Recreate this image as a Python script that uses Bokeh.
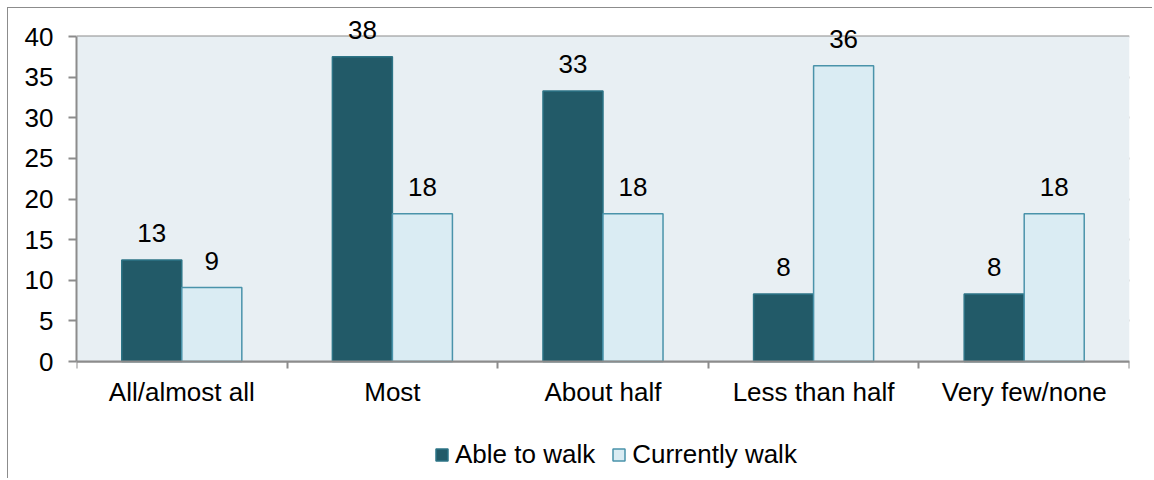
from bokeh.plotting import figure
from bokeh.models import ColumnDataSource, FixedTicker, Legend, LegendItem, Range1d
from bokeh.core.properties import value
from bokeh.embed import file_html
from bokeh.resources import INLINE

# Share of days walked, by group
categories = ["All/almost all", "Most", "About half", "Less than half", "Very few/none"]
able_to_walk = [12.5, 37.5, 33.3, 8.3, 8.3]
currently_walk = [9.1, 18.2, 18.2, 36.4, 18.2]
y_ticks = [0, 5, 10, 15, 20, 25, 30, 35, 40]

FONT = "Liberation Sans"
FS = "26px"
GRID = "#8c8c8c"
DARK_FILL, DARK_EDGE = "#225a68", "#2d7486"
LIGHT_FILL, LIGHT_EDGE = "#daecf3", "#4a93aa"
PLOT_BG = "#e8eff3"
BAR_W = 0.285

# layout in pixels: the frame fills the whole figure height so that value
# labels above the band, category labels and the legend all sit inside it
FIG_W, FIG_H = 1145, 471
LEFT, RIGHT = 68, 24
BAND_TOP = 28                      # figure px from top to the 40 line
CHART_H = 325                      # height of the 0..40 band
Y_MAX = y_ticks[-1]
PX = CHART_H / Y_MAX
Y_TOP = Y_MAX + BAND_TOP / PX
Y_MIN = -(FIG_H - BAND_TOP - CHART_H) / PX


def fmt(v):
    return str(int(v + 0.5))


centers = [i + 0.5 for i in range(len(categories))]
src_a = ColumnDataSource(dict(x=[c - BAR_W / 2 for c in centers], top=able_to_walk,
                              lbl=[fmt(v) for v in able_to_walk]))
src_c = ColumnDataSource(dict(x=[c + BAR_W / 2 for c in centers], top=currently_walk,
                              lbl=[fmt(v) for v in currently_walk]))

p = figure(width=FIG_W, height=FIG_H, output_backend="svg", toolbar_location=None,
           x_range=Range1d(0, len(categories)), y_range=Range1d(Y_MIN, Y_TOP),
           min_border_left=LEFT, min_border_right=RIGHT, min_border_top=0,
           min_border_bottom=0)
p.styles = {"border-left": "1px solid #8c8c8c", "border-top": "1px solid #8c8c8c",
            "margin-left": "7px", "margin-top": "7px"}
p.background_fill_color = "white"
p.border_fill_color = "white"
p.outline_line_color = None

# shaded plotting band
p.quad(left=[0], right=[len(categories)], bottom=[0], top=[Y_MAX],
       fill_color=PLOT_BG, line_color=None)

r_a = p.vbar(x="x", top="top", width=BAR_W, source=src_a, fill_color=DARK_FILL,
             line_color=DARK_EDGE, line_width=1.5)
r_c = p.vbar(x="x", top="top", width=BAR_W, source=src_c, fill_color=LIGHT_FILL,
             line_color=LIGHT_EDGE, line_width=1.5)

for src in (src_a, src_c):
    p.text(x="x", y="top", text="lbl", source=src, text_align="center",
           text_baseline="alphabetic", y_offset=-27, text_font=value(FONT),
           text_font_size=FS, text_color="#000000")

# grid
p.xgrid.visible = False
p.ygrid.ticker = FixedTicker(ticks=y_ticks)
p.ygrid.grid_line_color = GRID
p.ygrid.grid_line_width = 2

# y axis
yax = p.yaxis[0]
yax.ticker = FixedTicker(ticks=y_ticks)
yax.bounds = (0, Y_MAX)
yax.axis_line_color = GRID
yax.axis_line_width = 2
yax.major_tick_line_color = GRID
yax.major_tick_line_width = 2
yax.major_tick_out = 8
yax.major_tick_in = 0
yax.minor_tick_line_color = None
yax.major_label_text_font = FONT
yax.major_label_text_font_size = FS
yax.major_label_text_color = "#000000"
yax.major_label_standoff = 15

# x axis at zero: labels at category centres, ticks at category boundaries
xax = p.xaxis[0]
xax.fixed_location = 0
xax.ticker = FixedTicker(ticks=centers, minor_ticks=list(range(len(categories) + 1)))
xax.major_label_overrides = {c: name for c, name in zip(centers, categories)}
xax.axis_line_color = GRID
xax.axis_line_width = 2
xax.major_tick_line_color = None
xax.major_tick_out = 0
xax.minor_tick_line_color = GRID
xax.minor_tick_line_width = 2
xax.minor_tick_out = 7
xax.minor_tick_in = 0
xax.major_label_text_font = FONT
xax.major_label_text_font_size = FS
xax.major_label_text_color = "#000000"
xax.major_label_standoff = 8

legend = Legend(items=[LegendItem(label="Able to walk", renderers=[r_a]),
                       LegendItem(label="Currently walk", renderers=[r_c])],
                orientation="horizontal", location=(358, 9),
                glyph_width=15, glyph_height=15, label_standoff=6, spacing=16,
                padding=2, margin=0, border_line_color=None,
                background_fill_alpha=0, label_text_font=FONT,
                label_text_font_size=FS, label_text_color="#000000")
p.add_layout(legend, "center")

open("out.html", "w").write(file_html(p, INLINE))
